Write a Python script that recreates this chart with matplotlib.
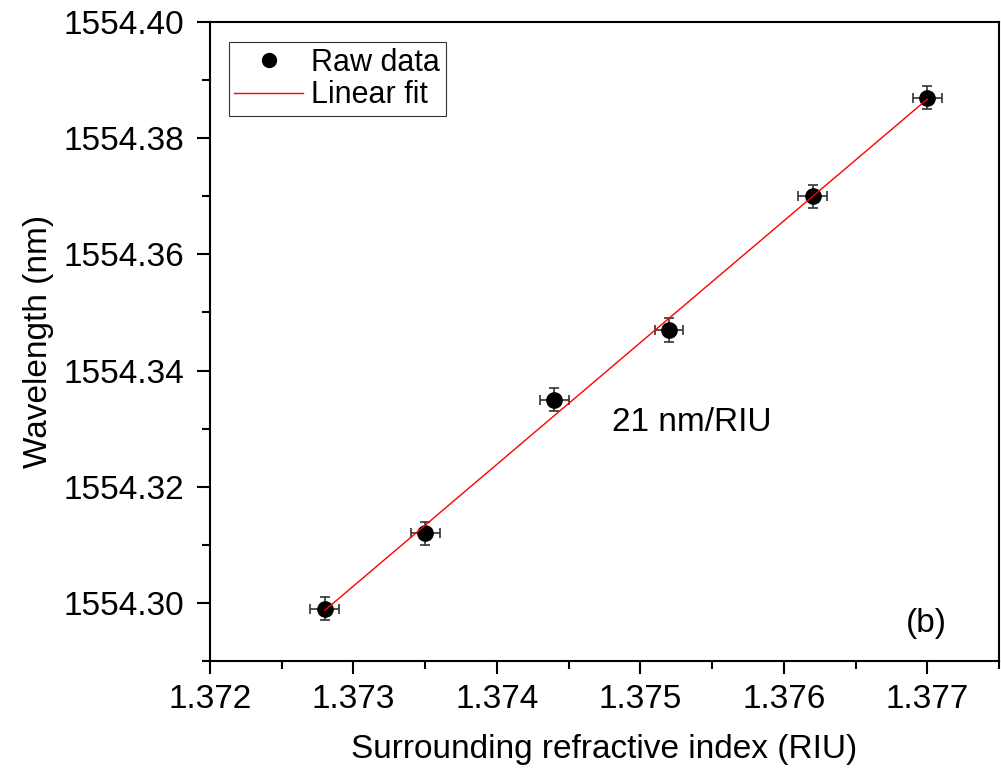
import numpy as np
import matplotlib
matplotlib.use("Agg")
import matplotlib.pyplot as plt
from matplotlib.ticker import MultipleLocator, FormatStrFormatter
from matplotlib.lines import Line2D

ri = [1.3728, 1.3735, 1.3744, 1.3752, 1.3762, 1.3770]
wl = [1554.299, 1554.312, 1554.335, 1554.347, 1554.370, 1554.387]
ri_err = [0.0001] * 6
wl_err = [0.002] * 6

plt.rcParams['font.family'] = ['Liberation Sans', 'DejaVu Sans']

fig = plt.figure(figsize=(10.01, 7.70), dpi=100)
ax = fig.add_axes([210/1001, 1 - 661/770, (999-210)/1001, (661-22)/770])

coef = np.polyfit(ri, wl, 1)
xf = np.array([ri[0], ri[-1]])
ax.plot(xf, np.polyval(coef, xf), color='red', lw=1.0, zorder=3)
ax.errorbar(ri, wl, xerr=ri_err, yerr=wl_err, fmt='o', color='black', ms=11,
            ecolor='#333333', elinewidth=1.2, capsize=3.8, capthick=1.2, zorder=2)

ax.set_xlim(1.372, 1.3775)
ax.set_ylim(1554.29, 1554.40)
ax.xaxis.set_major_locator(MultipleLocator(0.001))
ax.xaxis.set_minor_locator(MultipleLocator(0.0005))
ax.yaxis.set_major_locator(MultipleLocator(0.02))
ax.yaxis.set_minor_locator(MultipleLocator(0.01))
ax.xaxis.set_major_formatter(FormatStrFormatter('%.3f'))
ax.yaxis.set_major_formatter(FormatStrFormatter('%.2f'))
ax.tick_params(which='major', direction='out', length=9.4, width=1.5, labelsize=24)
ax.tick_params(axis='x', which='major', pad=7)
ax.tick_params(axis='y', which='major', pad=9)
ax.tick_params(which='minor', direction='out', length=5.8, width=1.5)
for s in ax.spines.values():
    s.set_linewidth(1.5)

ax.set_xlabel('Surrounding refractive index (RIU)', fontsize=24, labelpad=14)
ax.set_ylabel('Wavelength (nm)', fontsize=24, labelpad=7)

ax.text(1.3748, 1554.331, '21 nm/RIU', fontsize=24, va='center', ha='left')
ax.text(1.37685, 1554.2965, '(b)', fontsize=24, va='center', ha='left')

handles = [Line2D([], [], ls='none', marker='o', color='black', ms=10),
           Line2D([], [], color='red', lw=1.0)]
leg = ax.legend(handles, ['Raw data', 'Linear fit'], loc='upper left',
                bbox_to_anchor=(0.024, 0.968),
                fontsize=22, frameon=True, fancybox=False, edgecolor='black',
                handlelength=2.23, borderpad=0.18, labelspacing=0.08, handletextpad=0.28,
                borderaxespad=0)
leg.get_frame().set_linewidth(0.8)

fig.savefig('out.png', dpi=100)
